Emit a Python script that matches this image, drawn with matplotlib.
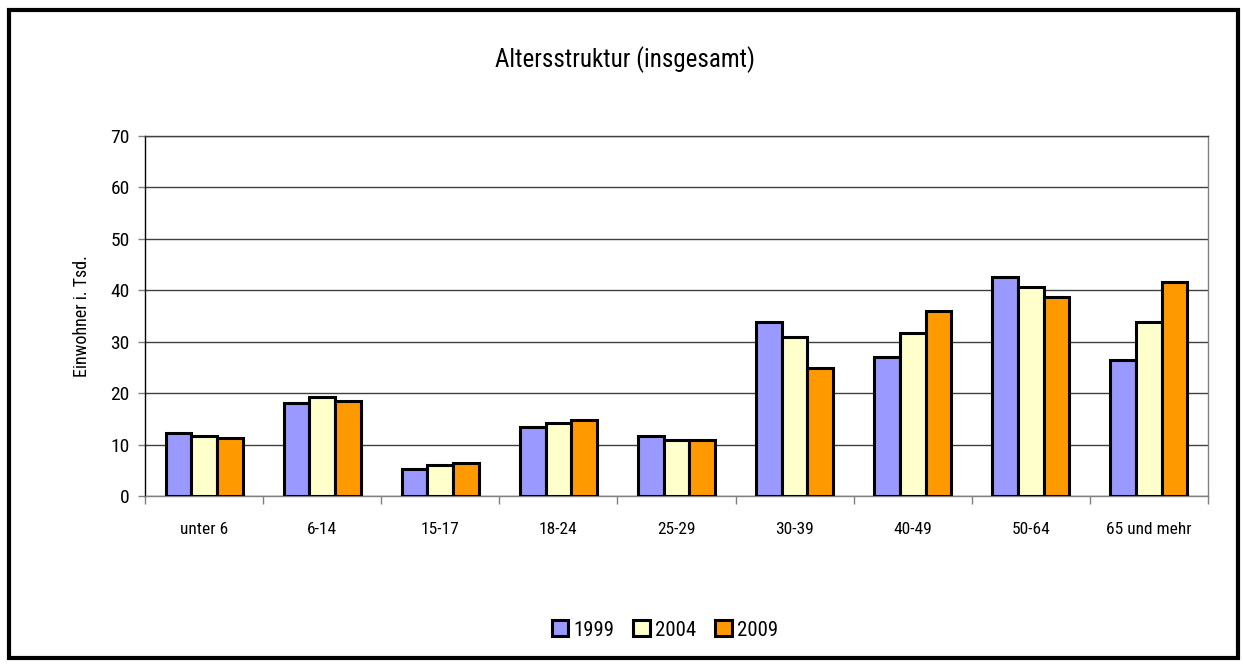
import matplotlib.pyplot as plt
import numpy as np
from matplotlib.patches import Rectangle
from matplotlib import font_manager

# data
categories = ["unter 6", "6-14", "15-17", "18-24", "25-29", "30-39", "40-49", "50-64", "65 und mehr"]
years = ["1999", "2004", "2009"]
v1999 = [12.2, 18.0, 5.3, 13.5, 11.7, 33.8, 27.0, 42.6, 26.4]
v2004 = [11.7, 19.2, 6.0, 14.2, 10.9, 31.0, 31.6, 40.6, 33.8]
v2009 = [11.2, 18.4, 6.5, 14.8, 10.9, 24.9, 35.9, 38.6, 41.6]
colors = ["#9999FF", "#FFFFCC", "#FF9900"]

# pick a condensed face, the original uses a narrow sans
installed = {f.name for f in font_manager.fontManager.ttflist}
wanted = ["Roboto Condensed", "PT Sans Narrow", "Archivo Narrow", "Asap Condensed", "Pragati Narrow"]
fams = [f for f in wanted if f in installed] + ["DejaVu Sans"]
plt.rcParams['font.family'] = fams

fig = plt.figure(figsize=(12.43, 6.64), dpi=100)
W, H = 1243, 664
ax = fig.add_axes([145 / W, 1 - 496 / H, (1208 - 145) / W, (496 - 136) / H])

x = np.arange(len(categories))
bw = 0.217
for i, (vals, c, lab) in enumerate(zip([v1999, v2004, v2009], colors, years)):
    ax.bar(x + (i - 1) * bw, vals, width=bw, color=c, edgecolor="black", linewidth=2.2,
           label=lab, zorder=3)

ax.set_xlim(-0.5, len(categories) - 0.5)
ax.set_ylim(0, 70)
ax.set_yticks(range(0, 71, 10))
ax.tick_params(axis='y', labelsize=14, length=5, width=1, color="#808080", pad=6)
ax.yaxis.grid(True, color="#404040", linewidth=1, zorder=0)
ax.set_axisbelow(True)

ax.set_xticks(x)
ax.set_xticklabels(categories, fontsize=12.5)
ax.tick_params(axis='x', length=0, pad=19)
ax.set_xticks(np.arange(-0.5, len(categories), 1), minor=True)
ax.tick_params(axis='x', which='minor', length=6, width=1, color="#808080")

ax.spines['left'].set_color("black")
ax.spines['right'].set_color("#808080")
ax.spines['bottom'].set_color("#808080")
ax.spines['top'].set_color("#404040")
for s in ax.spines.values():
    s.set_linewidth(1)

ax.set_ylabel("Einwohner i. Tsd.", fontsize=13, labelpad=14)

fig.text(0.503, 1 - 60 / H, "Altersstruktur (insgesamt)", ha="center", va="center", fontsize=18)

handles, labels = ax.get_legend_handles_labels()
fig.legend(handles, labels, loc="center", bbox_to_anchor=(0.535, 1 - 630 / H), ncol=3,
           frameon=False, fontsize=15, handlelength=0.8, handleheight=0.8,
           handletextpad=0.25, columnspacing=0.9)

fig.patches.append(Rectangle((8.5 / W, 1 - 658 / H), (1238 - 8.5) / W, (658 - 9.5) / H,
                             transform=fig.transFigure, fill=False, edgecolor="black",
                             linewidth=3))

fig.savefig("out.png", dpi=100)
